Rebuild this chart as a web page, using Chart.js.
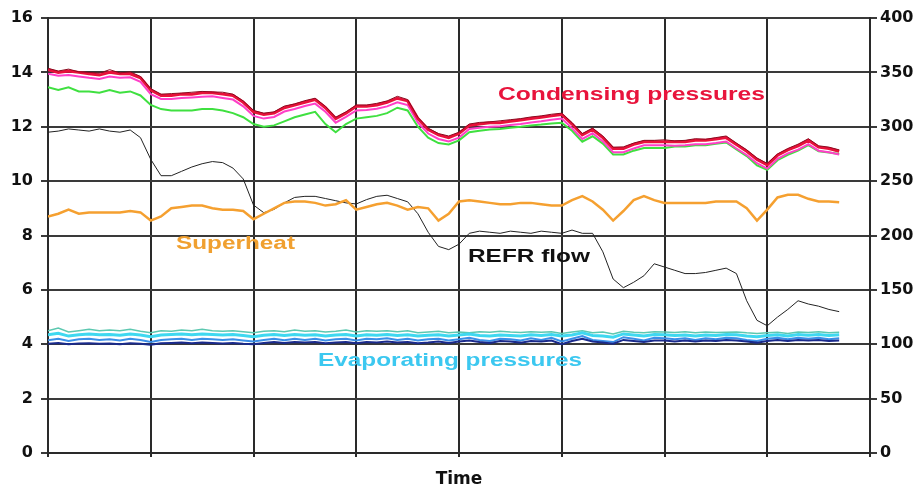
<!DOCTYPE html>
<html>
<head>
<meta charset="utf-8">
<script src="https://cdn.jsdelivr.net/npm/chart.js@4.4.0/dist/chart.umd.min.js"></script>
<style>
  html, body { margin: 0; padding: 0; background: #fff; }
  #wrap { width: 924px; height: 490px; }
</style>
</head>
<body>
<div id="wrap"><canvas id="plantChart" width="924" height="490"></canvas></div>
<script>
// time in grid divisions (8 divisions across the plot)
var timeSteps = [0.0,0.1,0.2,0.3,0.4,0.5,0.6,0.7,0.8,0.9,
  1.0,1.1,1.2,1.3,1.4,1.5,1.6,1.7,1.8,1.9,
  2.0,2.1,2.2,2.3,2.4,2.5,2.6,2.7,2.8,2.9,
  3.0,3.1,3.2,3.3,3.4,3.5,3.6,3.7,3.8,3.9,
  4.0,4.1,4.2,4.3,4.4,4.5,4.6,4.7,4.8,4.9,
  5.0,5.1,5.2,5.3,5.4,5.5,5.6,5.7,5.8,5.9,
  6.0,6.1,6.2,6.3,6.4,6.5,6.6,6.7,6.8,6.9,
  7.0,7.1,7.2,7.3,7.4,7.5,7.6,7.7];

// condensing pressures (left axis)
var condDark = [14.15,14.05,14.12,14.02,14.0,13.97,14.1,13.98,14.02,13.85,
  13.4,13.2,13.22,13.24,13.27,13.3,13.28,13.27,13.2,12.95,
  12.6,12.5,12.55,12.76,12.84,12.96,13.05,12.75,12.35,12.55,
  12.8,12.8,12.86,12.95,13.12,13.0,12.35,11.95,11.75,11.66,
  11.8,12.1,12.16,12.18,12.22,12.26,12.3,12.36,12.4,12.46,
  12.5,12.15,11.75,11.95,11.66,11.25,11.26,11.4,11.5,11.5,
  11.52,11.48,11.5,11.56,11.54,11.6,11.66,11.4,11.15,10.85,
  10.65,11.0,11.2,11.36,11.56,11.3,11.25,11.15];
var condRed = [14.1,14.0,14.05,14.0,13.95,13.9,14.0,13.95,13.95,13.8,
  13.35,13.15,13.15,13.2,13.2,13.25,13.25,13.2,13.15,12.9,
  12.55,12.45,12.5,12.7,12.8,12.9,13.0,12.7,12.3,12.5,
  12.75,12.75,12.8,12.9,13.05,12.95,12.3,11.9,11.7,11.6,
  11.75,12.05,12.1,12.15,12.15,12.2,12.25,12.3,12.35,12.4,
  12.45,12.1,11.7,11.9,11.6,11.2,11.2,11.35,11.45,11.45,
  11.45,11.45,11.45,11.5,11.5,11.55,11.6,11.35,11.1,10.8,
  10.6,10.95,11.15,11.3,11.5,11.25,11.2,11.1];
var condPink = [13.95,13.88,13.9,13.85,13.8,13.76,13.85,13.8,13.82,13.65,
  13.2,13.02,13.02,13.06,13.08,13.1,13.12,13.06,13.0,12.75,
  12.4,12.3,12.36,12.56,12.65,12.76,12.85,12.55,12.15,12.36,
  12.6,12.62,12.66,12.75,12.9,12.8,12.15,11.75,11.55,11.46,
  11.6,11.92,11.96,12.0,12.02,12.06,12.1,12.16,12.2,12.26,
  12.3,11.95,11.55,11.76,11.46,11.06,11.06,11.2,11.32,11.32,
  11.32,11.3,11.32,11.36,11.36,11.4,11.46,11.2,10.96,10.66,
  10.46,10.82,11.02,11.16,11.36,11.12,11.06,10.98];
var condGreen = [13.45,13.35,13.45,13.3,13.3,13.25,13.35,13.25,13.3,13.15,
  12.8,12.65,12.6,12.6,12.6,12.65,12.65,12.6,12.5,12.35,
  12.1,12.0,12.05,12.2,12.35,12.45,12.55,12.1,11.8,12.1,
  12.3,12.35,12.4,12.5,12.7,12.6,12.0,11.6,11.4,11.35,
  11.5,11.8,11.85,11.9,11.92,11.96,12.0,12.05,12.08,12.12,
  12.15,11.85,11.45,11.65,11.38,10.98,10.98,11.12,11.22,11.22,
  11.22,11.27,11.27,11.32,11.32,11.37,11.42,11.17,10.92,10.58,
  10.42,10.77,10.97,11.12,11.32,11.1,11.05,11.0];

// superheat (left axis)
var superheat = [8.7,8.8,8.95,8.8,8.85,8.85,8.85,8.85,8.9,8.85,
  8.55,8.7,9.0,9.05,9.1,9.1,9.0,8.95,8.95,8.9,
  8.6,8.8,9.0,9.2,9.25,9.25,9.2,9.1,9.15,9.3,
  8.95,9.05,9.15,9.2,9.1,8.95,9.05,9.0,8.55,8.8,
  9.25,9.3,9.25,9.2,9.15,9.15,9.2,9.2,9.15,9.1,
  9.1,9.3,9.45,9.25,8.95,8.55,8.9,9.3,9.45,9.3,
  9.2,9.2,9.2,9.2,9.2,9.25,9.25,9.25,9.0,8.55,
  8.95,9.4,9.5,9.5,9.35,9.25,9.25,9.22];

// refrigerant flow (right axis)
var refrFlow = [295,296,298,297,296,298,296,295,297,290,
  270,255,255,259,263,266,268,267,262,252,
  228,221,224,230,235,236,236,234,232,230,
  229,233,236,237,234,231,220,203,190,187,
  192,202,204,203,202,204,203,202,204,203,
  202,205,202,202,185,160,152,157,163,174,
  171,168,165,165,166,168,170,165,140,122,
  117,125,132,140,137,135,132,130];

// evaporating pressures (left axis)
var evapTeal = [4.5,4.6,4.45,4.5,4.55,4.5,4.52,4.5,4.55,4.48,
  4.42,4.5,4.48,4.52,4.5,4.55,4.5,4.48,4.5,4.46,
  4.42,4.48,4.5,4.46,4.52,4.48,4.5,4.45,4.48,4.52,
  4.45,4.5,4.48,4.5,4.46,4.5,4.42,4.45,4.48,4.42,
  4.45,4.42,4.46,4.44,4.48,4.45,4.43,4.46,4.44,4.46,
  4.4,4.45,4.5,4.42,4.45,4.38,4.48,4.44,4.42,4.46,
  4.45,4.43,4.46,4.42,4.45,4.43,4.44,4.45,4.42,4.4,
  4.42,4.44,4.4,4.45,4.43,4.46,4.42,4.44];
var evapCyan = [4.35,4.4,4.3,4.35,4.38,4.35,4.36,4.33,4.38,4.34,
  4.28,4.34,4.36,4.38,4.35,4.38,4.36,4.34,4.36,4.32,
  4.28,4.33,4.36,4.32,4.36,4.33,4.35,4.3,4.34,4.36,
  4.3,4.35,4.33,4.36,4.32,4.35,4.3,4.33,4.35,4.3,
  4.34,4.38,4.32,4.3,4.34,4.32,4.3,4.35,4.32,4.36,
  4.3,4.34,4.42,4.32,4.3,4.26,4.38,4.34,4.3,4.36,
  4.35,4.32,4.34,4.3,4.34,4.32,4.36,4.35,4.3,4.28,
  4.32,4.35,4.3,4.36,4.33,4.36,4.32,4.35];
var evapBlue = [4.15,4.2,4.12,4.18,4.2,4.16,4.18,4.14,4.2,4.16,
  4.08,4.16,4.18,4.2,4.16,4.2,4.18,4.16,4.18,4.14,
  4.1,4.16,4.2,4.15,4.2,4.16,4.2,4.14,4.18,4.2,
  4.14,4.2,4.18,4.22,4.16,4.2,4.14,4.18,4.2,4.14,
  4.18,4.24,4.16,4.12,4.2,4.18,4.14,4.22,4.16,4.24,
  4.1,4.2,4.3,4.16,4.12,4.08,4.26,4.2,4.14,4.24,
  4.22,4.18,4.22,4.16,4.22,4.18,4.24,4.22,4.16,4.12,
  4.2,4.24,4.18,4.24,4.2,4.24,4.18,4.22];
var evapNavy = [4.02,4.05,4.0,4.03,4.04,4.02,4.03,4.0,4.04,4.02,
  3.98,4.04,4.05,4.06,4.04,4.06,4.05,4.03,4.05,4.02,
  4.0,4.05,4.08,4.05,4.08,4.06,4.08,4.04,4.06,4.08,
  4.04,4.08,4.06,4.1,4.06,4.08,4.04,4.06,4.1,4.05,
  4.1,4.14,4.08,4.05,4.12,4.1,4.06,4.12,4.1,4.14,
  4.0,4.12,4.2,4.1,4.06,4.02,4.16,4.12,4.08,4.14,
  4.14,4.1,4.14,4.1,4.14,4.12,4.16,4.14,4.1,4.06,
  4.12,4.16,4.12,4.16,4.14,4.16,4.12,4.14];

var pressureTicks = [0, 2, 4, 6, 8, 10, 12, 14, 16];
var flowTicks = [0, 50, 100, 150, 200, 250, 300, 350, 400];

// text labels on the plot: [text, colour, left x, right x, centre y]
var seriesLabels = [
  ['Condensing pressures', '#e8143c', 498, 765, 95],
  ['Superheat', '#f0a030', 176, 295, 244],
  ['REFR flow', '#111111', 468, 590, 257],
  ['Evaporating pressures', '#3cc8f0', 318, 582, 361]
];

function toPoints(values) {
  return values.map(function(v, i) { return { x: timeSteps[i], y: v }; });
}

function line(label, values, color, width, axis) {
  return {
    label: label,
    data: toPoints(values),
    borderColor: color,
    borderWidth: width,
    pointRadius: 0,
    tension: 0,
    fill: false,
    yAxisID: axis || 'y'
  };
}

var labelPlugin = {
  id: 'seriesLabels',
  afterDatasetsDraw: function(chart) {
    var ctx = chart.ctx;
    ctx.save();
    ctx.font = 'bold 18px "Liberation Sans", Arial, sans-serif';
    ctx.textBaseline = 'middle';
    seriesLabels.forEach(function(l) {
      var w = ctx.measureText(l[0]).width;
      var sx = (l[3] - l[2]) / w;
      ctx.save();
      ctx.translate(l[2], l[4]);
      ctx.scale(sx, 1);
      ctx.fillStyle = l[1];
      ctx.fillText(l[0], 0, 0);
      ctx.restore();
    });
    ctx.restore();
  }
};

var tickFont = { family: '"DejaVu Sans", sans-serif', size: 16, weight: 'bold' };

var ctx = document.getElementById('plantChart').getContext('2d');
var plantChart = new Chart(ctx, {
  type: 'line',
  data: {
    datasets: [
      line('Condensing (dark)', condDark, '#8a0a1e', 1),
      line('Condensing', condRed, '#e8103a', 3),
      line('Condensing (pink)', condPink, '#ff3fc8', 2),
      line('Condensing (green)', condGreen, '#3fe040', 2),
      line('Superheat', superheat, '#f5a030', 2.5),
      line('REFR flow', refrFlow, '#222222', 1, 'y2'),
      line('Evaporating (navy)', evapNavy, '#1a2a8c', 2),
      line('Evaporating (blue)', evapBlue, '#3a8fe8', 2),
      line('Evaporating (cyan)', evapCyan, '#3fd8f0', 3),
      line('Evaporating (teal)', evapTeal, '#5cc8b0', 1.5)
    ]
  },
  options: {
    responsive: false,
    animation: false,
    layout: { padding: { top: 18, left: 0, right: 0, bottom: 0 } },
    plugins: {
      legend: { display: false },
      tooltip: { enabled: false }
    },
    scales: {
      x: {
        type: 'linear',
        min: 0,
        max: 8,
        ticks: { stepSize: 1, display: false },
        grid: { color: '#2a2a2a', lineWidth: 2, tickLength: 4 },
        border: { color: '#2a2a2a', width: 2 },
        title: {
          display: true,
          text: 'Time',
          color: '#111',
          font: { family: '"DejaVu Sans", sans-serif', size: 17, weight: 'bold' },
          padding: { top: 0, bottom: 0 }
        },
        afterFit: function(scale) { scale.height = 37; }
      },
      y: {
        position: 'left',
        min: 0,
        max: 16,
        afterBuildTicks: function(scale) {
          scale.ticks = pressureTicks.map(function(v) { return { value: v }; });
        },
        ticks: { color: '#111', font: tickFont, padding: 8 },
        grid: { color: '#3a3a3a', lineWidth: 2, tickLength: 7 },
        border: { color: '#2a2a2a', width: 2 },
        afterFit: function(scale) { scale.width = 48; }
      },
      y2: {
        position: 'right',
        min: 0,
        max: 400,
        afterBuildTicks: function(scale) {
          scale.ticks = flowTicks.map(function(v) { return { value: v }; });
        },
        ticks: { color: '#111', font: tickFont, padding: 3 },
        grid: { drawOnChartArea: false, color: '#3a3a3a', lineWidth: 2, tickLength: 7 },
        border: { color: '#2a2a2a', width: 2 },
        afterFit: function(scale) { scale.width = 54; }
      }
    }
  },
  plugins: [labelPlugin]
});
</script>
</body>
</html>
